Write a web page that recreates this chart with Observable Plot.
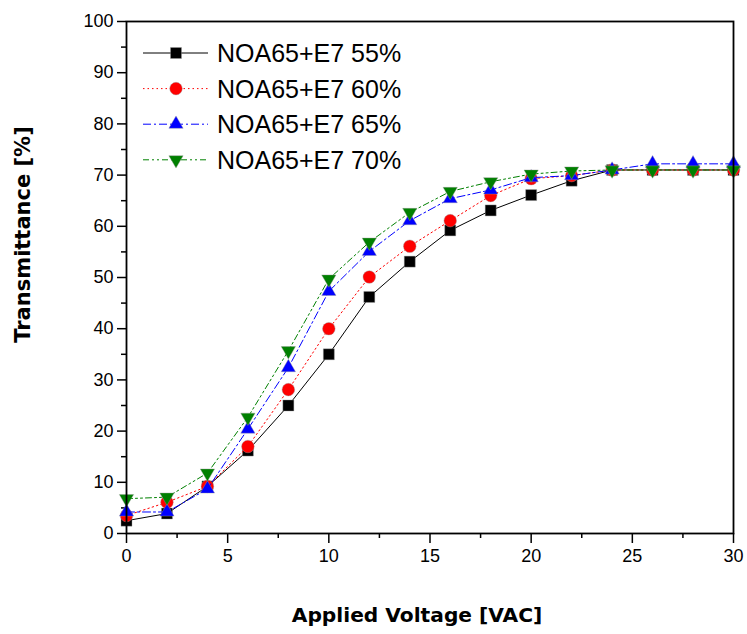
<!DOCTYPE html>
<html>
<head>
<meta charset="utf-8">
<script src="https://cdn.jsdelivr.net/npm/d3@7"></script>
<script src="https://cdn.jsdelivr.net/npm/@observablehq/plot@0.6"></script>
<style>
  html, body { margin: 0; padding: 0; background: #fff; }
  #chart { width: 747px; height: 634px; }
</style>
</head>
<body>
<div id="chart"></div>
<script>
// ---- data ----
const voltage = [0, 2, 4, 6, 8, 10, 12, 14, 16, 18, 20, 22, 24, 26, 28, 30];
const t55 = [2.5, 3.9, 9.2, 16.2, 25, 35, 46.2, 53.1, 59.2, 63.1, 66.1, 68.9, 71, 71, 71, 71];
const t60 = [3.5, 6.1, 9.2, 17, 28.1, 40, 50.1, 56.1, 61.1, 66, 69.3, 69.9, 71, 71, 71, 71];
const t65 = [4.2, 4.2, 8.7, 20.4, 32.4, 47.3, 55.1, 61.1, 65.4, 67.1, 69.5, 69.9, 71, 72.2, 72.2, 72.2];
const t70 = [6.8, 7.1, 11.8, 22.7, 35.7, 49.7, 56.9, 62.7, 66.8, 68.7, 70.2, 70.8, 71, 71, 71, 71];
const seriesNames = ["NOA65+E7 55%", "NOA65+E7 60%", "NOA65+E7 65%", "NOA65+E7 70%"];
const xMajorTicks = [0, 5, 10, 15, 20, 25, 30];
const xMinorTicks = [2.5, 7.5, 12.5, 17.5, 22.5, 27.5];
const yMajorTicks = [0, 10, 20, 30, 40, 50, 60, 70, 80, 90, 100];
const yMinorTicks = [5, 15, 25, 35, 45, 55, 65, 75, 85, 95];
const xTitle = "Applied Voltage [VAC]";
const yTitle = "Transmittance [%]";

// ---- styles ----
const seriesValues = [t55, t60, t65, t70];
const colors = ["#000000", "#ff0000", "#0000ff", "#008000"];
const symbols = ["square", "circle", "triangle", "triangle"];
const rotations = [0, 0, 0, 180];
const radii = [6.2, 6.3, 5.3, 5.3];
const dashes = [null, "1.5,3", "8,3,2,3", "6,3,2,3,2,3"];

const series = seriesNames.map((name, i) => ({
  name,
  color: colors[i],
  symbol: symbols[i],
  rotate: rotations[i],
  r: radii[i],
  dash: dashes[i],
  rows: voltage.map((v, j) => ({v, t: seriesValues[i][j]}))
}));

const marks = [];
series.forEach(s => {
  marks.push(Plot.line(s.rows, {x: "v", y: "t", stroke: s.color, strokeWidth: 1, strokeDasharray: s.dash}));
  marks.push(Plot.dot(s.rows, {x: "v", y: "t", symbol: s.symbol, fill: s.color, r: s.r, rotate: s.rotate, stroke: "#999", strokeWidth: 0.4}));
});

const plot = Plot.plot({
  width: 747,
  height: 634,
  marginLeft: 126,
  marginRight: 14,
  marginTop: 21,
  marginBottom: 101,
  style: {fontFamily: "'Liberation Sans', Arial, sans-serif", fontSize: "18px", background: "#fff", color: "#000"},
  x: {domain: [0, 30]},
  y: {domain: [0, 100]},
  marks: [
    Plot.axisX({ticks: xMajorTicks, tickSize: 10, tickPadding: 6, fontSize: 18, strokeWidth: 1.5, label: null}),
    Plot.axisX({ticks: xMinorTicks, tickSize: 5, text: null, strokeWidth: 1.5, label: null}),
    Plot.axisY({ticks: yMajorTicks, tickSize: 9, tickPadding: 4, fontSize: 18, strokeWidth: 1.5, label: null}),
    Plot.axisY({ticks: yMinorTicks, tickSize: 5, text: null, strokeWidth: 1.5, label: null}),
    ...marks,
    Plot.frame({stroke: "#000", strokeWidth: 1.8}),
    Plot.text([xTitle], {frameAnchor: "bottom", textAnchor: "middle", lineAnchor: "middle", dx: -13, dy: 82, text: d => d, fontFamily: "'DejaVu Sans', sans-serif", fontWeight: "bold", fontSize: 20.2}),
    Plot.text([yTitle], {frameAnchor: "left", textAnchor: "middle", lineAnchor: "middle", dx: -103, dy: -43, rotate: -90, text: d => d, fontFamily: "'DejaVu Sans', sans-serif", fontWeight: "bold", fontSize: 21})
  ]
});

document.getElementById("chart").appendChild(plot);

// ---- legend (inside plot area, top-left) ----
const svg = d3.select(plot);
const lg = svg.append("g").attr("class", "legend").attr("text-anchor", "start");
const symbolTypes = {square: d3.symbolSquare, circle: d3.symbolCircle, triangle: d3.symbolTriangle};
series.forEach((s, i) => {
  const y = 53 + 35.6 * i;
  lg.append("line")
    .attr("x1", 143).attr("x2", 208).attr("y1", y).attr("y2", y)
    .attr("stroke", s.color).attr("stroke-width", 1)
    .attr("stroke-dasharray", s.dash);
  lg.append("path")
    .attr("d", d3.symbol(symbolTypes[s.symbol], s.r * s.r * Math.PI)())
    .attr("transform", `translate(176,${y}) rotate(${s.rotate})`)
    .attr("fill", s.color).attr("stroke", "#999").attr("stroke-width", 0.4);
  lg.append("text")
    .attr("x", 217).attr("y", y).attr("dy", "0.36em")
    .attr("text-anchor", "start")
    .attr("font-family", "'Liberation Sans', Arial, sans-serif")
    .attr("font-size", 25)
    .attr("fill", "#000")
    .text(s.name);
});
</script>
</body>
</html>
